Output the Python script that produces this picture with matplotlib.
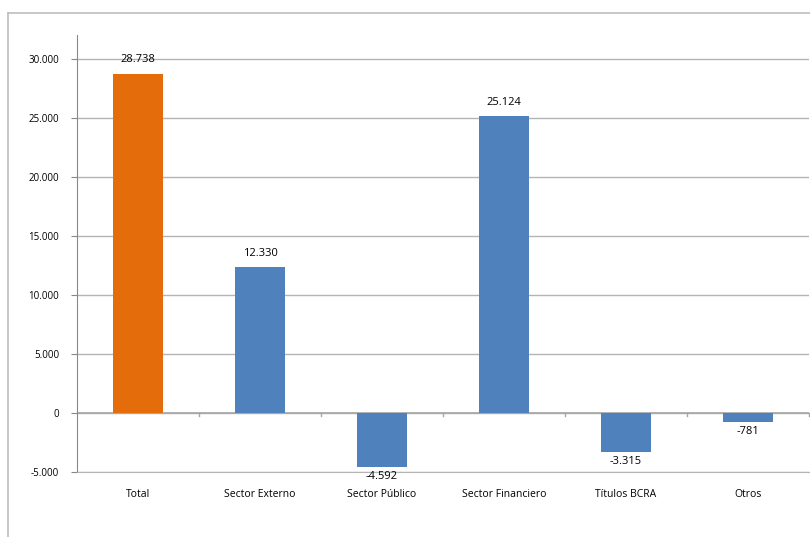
import matplotlib.pyplot as plt
from matplotlib.lines import Line2D

categorias = ["Total", "Sector Externo", "Sector Público", "Sector Financiero", "Títulos BCRA", "Otros"]
valores = [28738, 12330, -4592, 25124, -3315, -781]
etiquetas = ["28.738", "12.330", "-4.592", "25.124", "-3.315", "-781"]
colores = ["#E46C0A", "#4F81BD", "#4F81BD", "#4F81BD", "#4F81BD", "#4F81BD"]
yticks = [-5000, 0, 5000, 10000, 15000, 20000, 25000, 30000]
ytick_labels = ["-5.000", "0", "5.000", "10.000", "15.000", "20.000", "25.000", "30.000"]

plt.rcParams['font.family'] = ['Open Sans', 'DejaVu Sans']

fig = plt.figure(figsize=(8.10, 5.37), dpi=100)
ax = fig.add_axes([77/810, 1 - 472/537, 732/810, (472 - 35)/537])

x = list(range(len(categorias)))
ax.bar(x, valores, width=0.41, color=colores, zorder=3)

# etiquetas de datos
for xi, v, t in zip(x, valores, etiquetas):
    if v >= 0:
        ax.annotate(t, (xi, v), xytext=(0, 6), textcoords="offset points",
                    ha="center", va="bottom", fontsize=8)
    else:
        ax.annotate(t, (xi, v), xytext=(0, -3), textcoords="offset points",
                    ha="center", va="top", fontsize=8)

ax.set_xlim(-0.5, len(categorias) - 0.5)
ax.set_ylim(-5000, 32000)
ax.set_yticks(yticks)
ax.set_yticklabels(ytick_labels, fontsize=7)
ax.set_xticks(x)
ax.set_xticklabels(categorias, fontsize=7.5)
ax.tick_params(axis="x", length=0, pad=12)
ax.tick_params(axis="y", length=4, color="#888888", pad=9)

ax.grid(axis="y", color="#b4b4b4", linewidth=1, zorder=0)
for s in ["top", "right"]:
    ax.spines[s].set_visible(False)
ax.spines["bottom"].set_color("#b4b4b4")
ax.spines["left"].set_color("#888888")

# linea del cero con marcas entre categorias
ax.axhline(0, color="#a6a6a6", linewidth=1.2, zorder=2)
for b in [i + 0.5 for i in x]:
    ax.plot([b, b], [0, -300], color="#a6a6a6", linewidth=1, zorder=2, clip_on=False)

# marco exterior
fig.add_artist(Line2D([8/810, 1.0], [1 - 13/537, 1 - 13/537], color="#bdbdbd", linewidth=1.2))
fig.add_artist(Line2D([8/810, 8/810], [0, 1 - 13/537], color="#bdbdbd", linewidth=1.2))

fig.savefig("out.png", dpi=100)
